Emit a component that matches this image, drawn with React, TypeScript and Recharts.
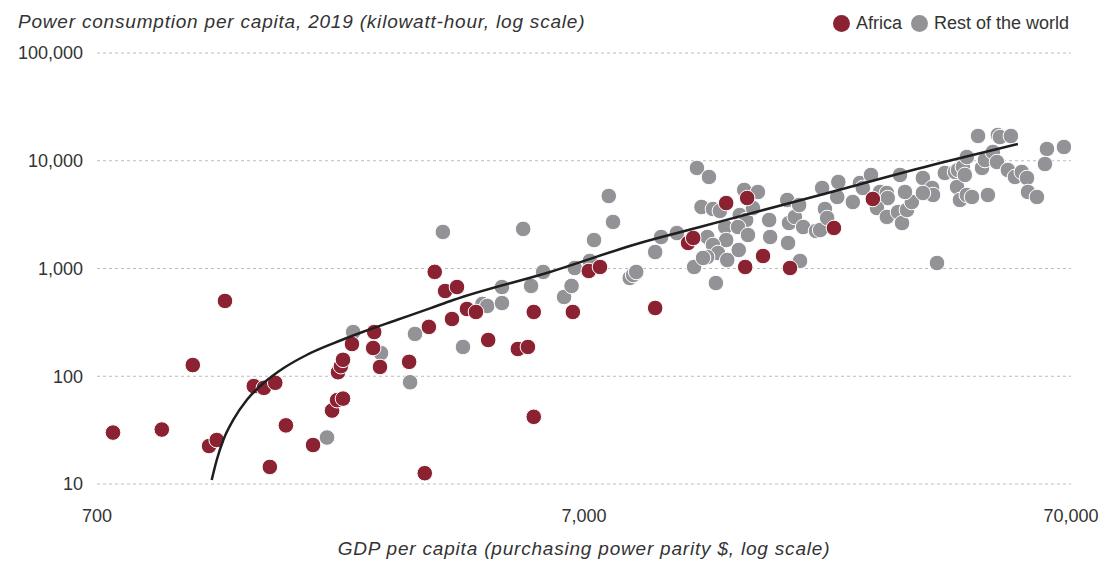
import { ScatterChart, Scatter, XAxis, YAxis, CartesianGrid } from "recharts";

const FONT = '"Liberation Sans", Arial, Helvetica, sans-serif';
const AFRICA_COLOR = "#8b2232";
const REST_COLOR = "#939397";

const X_TICKS = [700, 7000, 70000];
const Y_TICKS = [10, 100, 1000, 10000, 100000];

// [gdp per capita, kWh per capita]
const africa: [number, number][] = [
  [755, 30], [951, 32], [1101, 127], [1189, 22.5], [1233, 25.6], [1282, 500],
  [1469, 81], [1541, 78], [1585, 14.4], [1626, 87], [1710, 35], [1944, 23],
  [2127, 48], [2178, 60], [2240, 62], [2188, 109], [2218, 124], [2240, 142],
  [2337, 199], [2596, 257], [2583, 183], [2668, 122], [3062, 136], [3362, 287],
  [3297, 12.6], [3456, 930], [3630, 618], [3840, 673], [3750, 340], [4025, 421],
  [4200, 395], [4450, 217], [5120, 179], [5370, 187], [5520, 395], [5520, 42],
  [6640, 395], [7160, 948], [7550, 1033], [9800, 430], [11450, 1726], [11730, 1919],
  [13710, 4050], [15140, 4510], [15000, 1033], [16320, 1306], [18540, 1011],
  [22820, 2378], [27430, 4420],
];

const rest: [number, number][] = [
  [2077, 27], [2350, 257], [2681, 164], [3148, 247], [3076, 88], [3592, 2183],
  [3950, 187], [4330, 469], [4430, 449], [4750, 673], [4750, 478], [5250, 2330],
  [5450, 689], [5770, 929], [6370, 544], [6600, 689], [6700, 1011], [7195, 1175],
  [7340, 1836], [7870, 4710], [8030, 2705], [8690, 817], [8830, 871], [8960, 929],
  [9800, 1422], [10080, 1960], [10860, 2133], [11780, 1033], [11940, 8570],
  [12640, 7070], [12200, 3724], [12880, 3566], [13310, 3420], [14930, 5360],
  [15930, 5130], [14620, 3135], [15070, 2818], [15560, 3640], [13650, 2427],
  [14500, 2427], [15200, 2046], [13710, 1836], [12540, 1960], [12880, 1652],
  [13190, 1393], [12530, 1278], [12290, 1253], [13780, 1200], [14550, 1485],
  [13060, 733], [19440, 1175], [18370, 1726], [16880, 1960], [16800, 2818],
  [18300, 4325], [18450, 2644], [18970, 3008], [19360, 3883], [19730, 2427],
  [20970, 2229], [21380, 2275], [21870, 3566], [22100, 2943], [21580, 5590],
  [23300, 6350], [23180, 4610], [24950, 4140], [25800, 6210], [26160, 5590],
  [27190, 7380], [28370, 5130], [29310, 5020], [29430, 4510], [27970, 3640],
  [29310, 3010], [30900, 3340], [31490, 2640], [32230, 3490], [32980, 4140],
  [31930, 5130], [31190, 7380], [34750, 6920], [36290, 5590], [36460, 4810],
  [34750, 5020], [37150, 1125], [38550, 7700], [40840, 5710], [41410, 4325],
  [42770, 4810], [43830, 4610], [40460, 7870], [41030, 8200], [41990, 8750],
  [42770, 10830], [42380, 7380], [45110, 16980], [45960, 8570], [46600, 10160],
  [47260, 4810], [48380, 12060], [49540, 17340], [50020, 16600], [52690, 16980],
  [49330, 9730], [51940, 8200], [53710, 7070], [55480, 7870], [56860, 6920],
  [57120, 5130], [59590, 4610], [62480, 12860], [61890, 9330], [67700, 13420],
];

// trend line
const trendGdp = [
  1204, 1233, 1272, 1333, 1421, 1537, 1689, 1886, 2139, 2465, 2887, 3379, 3772,
  5960, 9120, 12110, 16070, 21380, 37670, 54450,
];
const trendKwh = [
  10.9, 16.7, 25.6, 39.3, 60.2, 86, 118.5, 157.5, 202, 259, 333, 427, 510,
  929, 1726, 2427, 3420, 4810, 9527, 14290,
];

const toRows = (pts: [number, number][]) => pts.map(([gdp, kwh]) => ({ gdp, kwh }));
const trend = trendGdp.map((gdp, i) => ({ gdp, kwh: trendKwh[i] }));

const dot = (fill: string) => (p: any) => (
  <circle cx={p.cx} cy={p.cy} r={7.8} fill={fill} stroke="#fff" strokeWidth={1} />
);

const fmt = (v: number) => v.toLocaleString("en-US");

export default function App() {
  const text = { fontFamily: FONT, fill: "#333", fontSize: 18 };
  return (
    <div style={{ position: "absolute", left: 0, top: 0, width: 1101, height: 562, fontFamily: FONT, color: "#333" }}>
      <ScatterChart width={1101} height={562} margin={{ top: 53, right: 30, bottom: 38, left: 17 }}>
        <CartesianGrid vertical={false} stroke="#bbb" strokeDasharray="3 3" />
        <XAxis
          type="number"
          dataKey="gdp"
          scale="log"
          domain={[700, 70000]}
          ticks={X_TICKS}
          tickFormatter={fmt}
          axisLine={false}
          tickLine={false}
          tickSize={0}
          tickMargin={25}
          height={40}
          tick={text}
          allowDataOverflow
        />
        <YAxis
          type="number"
          dataKey="kwh"
          scale="log"
          domain={[10, 100000]}
          ticks={Y_TICKS}
          tickFormatter={fmt}
          axisLine={false}
          tickLine={false}
          tickSize={0}
          tickMargin={14}
          width={80}
          tick={text}
          allowDataOverflow
        />
        <Scatter data={toRows(rest)} shape={dot(REST_COLOR)} isAnimationActive={false} />
        <Scatter data={toRows(africa)} shape={dot(AFRICA_COLOR)} isAnimationActive={false} />
        <Scatter
          data={trend}
          line={{ stroke: "#1e1e1e", strokeWidth: 2.5 }}
          lineJointType="monotoneX"
          shape={() => <g />}
          isAnimationActive={false}
        />
      </ScatterChart>
      <div style={{ position: "absolute", left: 18, top: 10, fontSize: 19, letterSpacing: 0.8, fontStyle: "italic", lineHeight: "24px" }}>
        Power consumption per capita, 2019 (kilowatt-hour, log scale)
      </div>
      <div style={{ position: "absolute", right: 32, top: 11, fontSize: 18, lineHeight: "24px", display: "flex", alignItems: "center" }}>
        <span style={{ width: 17, height: 17, borderRadius: 9, background: AFRICA_COLOR, marginRight: 6 }} />
        <span style={{ marginRight: 9 }}>Africa</span>
        <span style={{ width: 17, height: 17, borderRadius: 9, background: REST_COLOR, marginRight: 6 }} />
        <span>Rest of the world</span>
      </div>
      <div style={{ position: "absolute", left: 97, width: 974, textAlign: "center", top: 537, fontSize: 19, letterSpacing: 0.8, fontStyle: "italic", lineHeight: "24px" }}>
        GDP per capita (purchasing power parity $, log scale)
      </div>
    </div>
  );
}
